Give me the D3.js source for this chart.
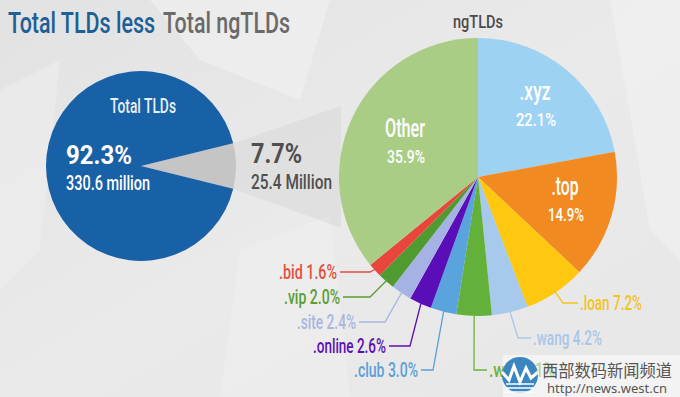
<!DOCTYPE html>
<html><head><meta charset="utf-8">
<script src="https://cdn.jsdelivr.net/npm/d3@7/dist/d3.min.js"></script>
<style>
html,body{margin:0;padding:0;background:#e8e8e8;}
svg{display:block;}
text{font-family:"Roboto","Liberation Sans",sans-serif;}
</style></head>
<body>
<svg id="chart" width="680" height="397"></svg>
<script>
// ---------- data ----------
const totalCategories = ["ngTLDs", "Total TLDs"];
const totalValues = [7.7, 92.3];
const totalCounts = ["25.4 Million", "330.6 million"];

const ngCategories = [".xyz", ".top", ".loan", ".wang", ".win", ".club", ".online", ".site", ".vip", ".bid", "Other"];
const ngValues = [22.1, 14.9, 7.2, 4.2, 4.1, 3.0, 2.6, 2.4, 2.0, 1.6, 35.9];
const ngColors = ["#9ed2f3", "#f28a22", "#fdc80f", "#a7c9ec", "#63b13b", "#5aa4de", "#5a0eb8", "#a4b3e3", "#4f9b2f", "#e8463a", "#a9cd85"];
const ngLabelColors = ["#ffffff", "#ffffff", "#f2c41c", "#a9c6e8", "#6ab23c", "#5d9fd8", "#5a10b0", "#a9b6e0", "#5a9e32", "#e2503f", "#ffffff"];

// ---------- layout ----------
const svg = d3.select("#chart");
const W = 680, H = 397;

function txt(sel, x, y, size, fill, len, str, opts = {}) {
  const t = sel.append("text").attr("x", x).attr("y", y).attr("font-size", size).attr("fill", fill)
    .attr("text-anchor", opts.anchor || "start").attr("font-weight", opts.weight || 500)
    .attr("textLength", len).attr("lengthAdjust", "spacingAndGlyphs").text(str);
  if (opts.style) t.attr("style", opts.style);
  return t;
}

// background
const bg = svg.append("g");
const grad = svg.append("defs").append("linearGradient").attr("id","bgG")
  .attr("x1","0").attr("y1","0").attr("x2","1").attr("y2","1");
grad.append("stop").attr("offset","0").attr("stop-color","#e2e2e2");
grad.append("stop").attr("offset","0.5").attr("stop-color","#eaeaea");
grad.append("stop").attr("offset","1").attr("stop-color","#e7e7e7");
bg.append("rect").attr("width",W).attr("height",H).attr("fill","url(#bgG)");
const shapes = [
  [[0,90],[60,60],[40,250],[0,290]],
  [[150,0],[330,0],[300,100],[200,60]],
  [[240,250],[330,215],[350,397],[220,397]],
  [[610,0],[680,0],[680,260],[650,230]]
];
shapes.forEach((s,i)=>bg.append("path").attr("d", d3.line()(s)+"Z")
  .attr("fill", i%2 ? "#f3f3f3" : "#f0f0f0").attr("opacity",0.5));

// title
const title = svg.append("g");
txt(title, 8, 33, 30, "#1d5f96", 147, "Total TLDs less");
txt(title, 163, 33, 30, "#6a6a6a", 127, "Total ngTLDs");

// ---------- left pie ----------
const lc = [141, 166], lr = 95;
const ngShare = totalValues[0] / d3.sum(totalValues);
const leftPie = d3.pie().sort(null)
  .startAngle(Math.PI/2 - ngShare*Math.PI)
  .endAngle(Math.PI/2 - ngShare*Math.PI + 2*Math.PI);
const leftArcs = leftPie(totalValues);
const leftArc = d3.arc().innerRadius(0).outerRadius(lr);
const lg = svg.append("g").attr("transform",`translate(${lc})`);

// connecting funnel from the ngTLD slice towards the right pie
const a0 = leftArcs[0].startAngle, a1 = leftArcs[0].endAngle;
const p0 = [lr*Math.sin(a0), -lr*Math.cos(a0)], p1 = [lr*Math.sin(a1), -lr*Math.cos(a1)];
lg.append("path").attr("d", d3.line()([p0,[200,-60],[200,62],p1])+"Z")
  .attr("fill","#d4d4d4").attr("opacity",0.45);

lg.selectAll("path.s").data(leftArcs).join("path").attr("class","s")
  .attr("d", leftArc).attr("fill",(d,i)=> i===0 ? "#c5c5c5" : "#1961a6");

txt(lg, 2, -53, 20, "#e8f0f8", 66, totalCategories[1], {anchor:"middle"});
txt(lg, -75, -2, 26, "#ffffff", 66, totalValues[1].toFixed(1)+"%", {weight:"bold"});
txt(lg, -75, 24, 20, "#ffffff", 84, totalCounts[1]);
txt(lg, 110, -3, 28, "#4f4f4f", 51, totalValues[0].toFixed(1)+"%", {weight:"bold"});
txt(lg, 110, 23, 21, "#4f4f4f", 81, totalCounts[0]);

// ---------- right pie ----------
const rc = [478, 177], rr = 139;
const rightPie = d3.pie().sort(null);
const rightArcs = rightPie(ngValues);
const rightArc = d3.arc().innerRadius(0).outerRadius(rr);
const rg = svg.append("g").attr("transform",`translate(${rc})`);

txt(svg, 478, 28, 18, "#4a4a4a", 50, totalCategories[0], {anchor:"middle"});

rg.selectAll("path").data(rightArcs).join("path")
  .attr("d", rightArc).attr("fill",(d,i)=>ngColors[i]);

// inside labels (xyz, top, Other): [x, y, nameLen, valueLen]
const inside = {0:[57,-77, 31,40], 1:[87,18, 27,36], 10:[-73,-40, 40,38]};
Object.entries(inside).forEach(([k,p])=>{
  const i = +k;
  txt(rg, p[0], p[1], 25, "#ffffff", p[2], ngCategories[i], {anchor:"middle"});
  txt(rg, p[0]+1, p[1]+26, 19, "#ffffff", p[3], ngValues[i].toFixed(1)+"%", {anchor:"middle"});
});

// outside labels with leader lines: [elbowX, labelY, lineEndX, anchor, textLen]
const outside = {
  2:[563,303,578,"start",62],
  3:[518,338,531,"start",69],
  4:[474,370,487,"start",66],
  5:[433,370,421,"end",64],
  6:[410,346,389,"end",73],
  7:[385,322,359,"end",59],
  8:[370,297,343,"end",56],
  9:[370,272,340,"end",58]
};
Object.entries(outside).forEach(([k,o])=>{
  const i = +k, d = rightArcs[i];
  const m = (d.startAngle + d.endAngle)/2;
  const s = [rc[0] + (rr-3)*Math.sin(m), rc[1] - (rr-3)*Math.cos(m)];
  const pts = [s, [o[0], o[1]], [o[2], o[1]]];
  svg.append("path").attr("d", d3.line()(pts)).attr("fill","none")
    .attr("stroke", ngLabelColors[i]).attr("stroke-width",1.3);
  const tx = o[3]==="start" ? o[2]+2 : o[2]-3;
  txt(svg, tx, o[1]+7, 21, ngLabelColors[i], o[4], ngCategories[i] + " " + ngValues[i].toFixed(1) + "%", {anchor:o[3]});
});

// ---------- watermark ----------
const wm = svg.append("g");
wm.append("rect").attr("x",503).attr("y",355).attr("width",177).attr("height",42).attr("fill","#ffffff").attr("opacity",0.5);
wm.append("circle").attr("cx",520).attr("cy",375).attr("r",18).attr("fill","#3a86c0");
wm.append("path").attr("d","M502,372 L509,380 L514,366 L520,382 L526,368 L531,378 L538,372")
  .attr("fill","none").attr("stroke","#ffffff").attr("stroke-width",3);
[384,388,392].forEach(y=>wm.append("line").attr("x1",506).attr("x2",534).attr("y1",y).attr("y2",y)
  .attr("stroke","#ffffff").attr("stroke-width",1.5));
txt(wm, 542, 377, 16.5, "#555555", 130, "西部数码新闻频道", {weight:"normal", style:"font-family:'Noto Sans CJK SC',sans-serif"});
txt(wm, 547, 393, 13, "#555555", 120, "http://news.west.cn", {weight:"normal", style:"font-family:'Noto Sans',sans-serif"});
</script>
</body></html>
